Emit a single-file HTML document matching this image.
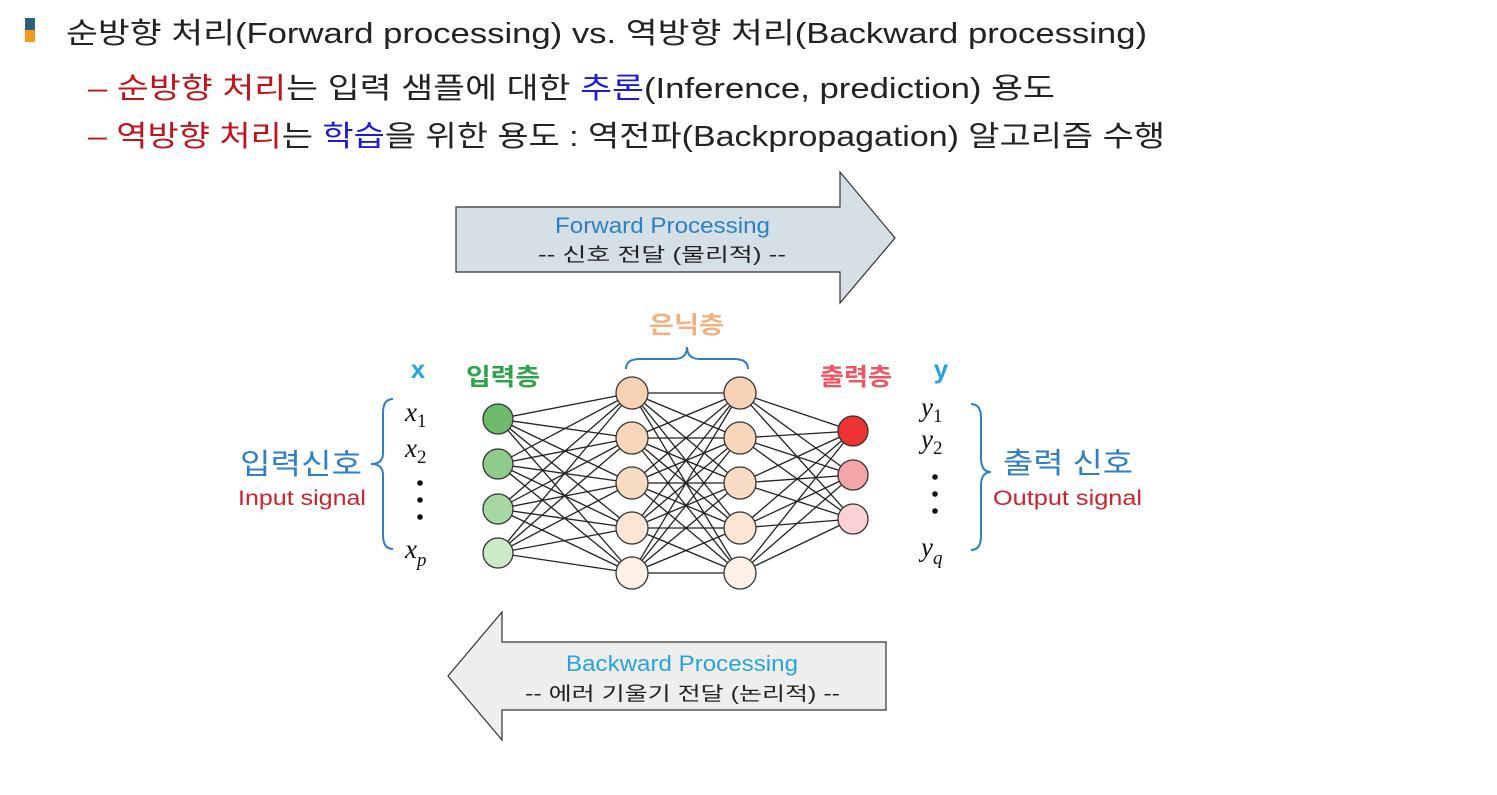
<!DOCTYPE html>
<html><head><meta charset="utf-8"><style>
body{margin:0;background:#fff;width:1497px;height:795px;overflow:hidden;font-family:"Liberation Sans","Noto Sans CJK KR",sans-serif}
svg{position:absolute;left:0;top:0}
text{font-family:"Liberation Sans","Noto Sans CJK KR",sans-serif}
.m{font-family:"Liberation Serif","DejaVu Serif",serif;font-style:italic}
</style></head><body>
<svg width="1497" height="795" viewBox="0 0 1497 795">
<rect x="25" y="18" width="10" height="12" fill="#2f5f7a"/><rect x="25" y="30" width="10" height="12" fill="#f39a1e"/>
<text x="66" y="43" font-size="29" fill="#222" textLength="1081" lengthAdjust="spacingAndGlyphs">순방향 처리(Forward processing) vs. 역방향 처리(Backward processing)</text>
<text x="88" y="98" font-size="29" fill="#c0141c" textLength="967" lengthAdjust="spacingAndGlyphs">– 순방향 처리<tspan fill="#222">는  입력 샘플에 대한 </tspan><tspan fill="#1a1adb">추론</tspan><tspan fill="#222">(Inference, prediction) 용도</tspan></text>
<text x="88" y="146" font-size="29" fill="#c0141c" textLength="1077" lengthAdjust="spacingAndGlyphs">– 역방향 처리<tspan fill="#222">는 </tspan><tspan fill="#1a1adb">학습</tspan><tspan fill="#222">을 위한 용도 : 역전파(Backpropagation) 알고리즘 수행</tspan></text>

<polygon points="456,207 840,207 840,172 895,238 840,303 840,272 456,272" fill="#d5dfe6" stroke="#333" stroke-width="1.2"/>
<text x="555" y="233" font-size="22" fill="#2e7fc4" textLength="215" lengthAdjust="spacingAndGlyphs">Forward Processing</text>
<text x="538" y="261" font-size="19" fill="#222" textLength="248" lengthAdjust="spacingAndGlyphs">-- 신호 전달 (물리적) --</text>

<polygon points="886,642 502,642 502,612 448,676 502,740 502,710 886,710" fill="#eeeeee" stroke="#333" stroke-width="1.2"/>
<text x="566" y="671" font-size="22" fill="#27a3dd" textLength="232" lengthAdjust="spacingAndGlyphs">Backward Processing</text>
<text x="525" y="700" font-size="19" fill="#222" textLength="315" lengthAdjust="spacingAndGlyphs">-- 에러 기울기 전달 (논리적) --</text>

<g stroke="#222" stroke-width="1.3">
<line x1="498" y1="419" x2="632" y2="393"/><line x1="498" y1="419" x2="632" y2="438"/><line x1="498" y1="419" x2="632" y2="483"/><line x1="498" y1="419" x2="632" y2="528"/><line x1="498" y1="419" x2="632" y2="573"/>
<line x1="498" y1="464" x2="632" y2="393"/><line x1="498" y1="464" x2="632" y2="438"/><line x1="498" y1="464" x2="632" y2="483"/><line x1="498" y1="464" x2="632" y2="528"/><line x1="498" y1="464" x2="632" y2="573"/>
<line x1="498" y1="509" x2="632" y2="393"/><line x1="498" y1="509" x2="632" y2="438"/><line x1="498" y1="509" x2="632" y2="483"/><line x1="498" y1="509" x2="632" y2="528"/><line x1="498" y1="509" x2="632" y2="573"/>
<line x1="498" y1="553" x2="632" y2="393"/><line x1="498" y1="553" x2="632" y2="438"/><line x1="498" y1="553" x2="632" y2="483"/><line x1="498" y1="553" x2="632" y2="528"/><line x1="498" y1="553" x2="632" y2="573"/>
<line x1="632" y1="393" x2="740" y2="393"/><line x1="632" y1="393" x2="740" y2="438"/><line x1="632" y1="393" x2="740" y2="483"/><line x1="632" y1="393" x2="740" y2="528"/><line x1="632" y1="393" x2="740" y2="573"/>
<line x1="632" y1="438" x2="740" y2="393"/><line x1="632" y1="438" x2="740" y2="438"/><line x1="632" y1="438" x2="740" y2="483"/><line x1="632" y1="438" x2="740" y2="528"/><line x1="632" y1="438" x2="740" y2="573"/>
<line x1="632" y1="483" x2="740" y2="393"/><line x1="632" y1="483" x2="740" y2="438"/><line x1="632" y1="483" x2="740" y2="483"/><line x1="632" y1="483" x2="740" y2="528"/><line x1="632" y1="483" x2="740" y2="573"/>
<line x1="632" y1="528" x2="740" y2="393"/><line x1="632" y1="528" x2="740" y2="438"/><line x1="632" y1="528" x2="740" y2="483"/><line x1="632" y1="528" x2="740" y2="528"/><line x1="632" y1="528" x2="740" y2="573"/>
<line x1="632" y1="573" x2="740" y2="393"/><line x1="632" y1="573" x2="740" y2="438"/><line x1="632" y1="573" x2="740" y2="483"/><line x1="632" y1="573" x2="740" y2="528"/><line x1="632" y1="573" x2="740" y2="573"/>
<line x1="740" y1="393" x2="853" y2="431"/><line x1="740" y1="393" x2="853" y2="475"/><line x1="740" y1="393" x2="853" y2="519"/>
<line x1="740" y1="438" x2="853" y2="431"/><line x1="740" y1="438" x2="853" y2="475"/><line x1="740" y1="438" x2="853" y2="519"/>
<line x1="740" y1="483" x2="853" y2="431"/><line x1="740" y1="483" x2="853" y2="475"/><line x1="740" y1="483" x2="853" y2="519"/>
<line x1="740" y1="528" x2="853" y2="431"/><line x1="740" y1="528" x2="853" y2="475"/><line x1="740" y1="528" x2="853" y2="519"/>
<line x1="740" y1="573" x2="853" y2="431"/><line x1="740" y1="573" x2="853" y2="475"/><line x1="740" y1="573" x2="853" y2="519"/>
</g>
<g stroke="#333" stroke-width="1.3">
<circle cx="498" cy="419" r="15" fill="#6dbb6b"/><circle cx="498" cy="464" r="15" fill="#8fcb8a"/><circle cx="498" cy="509" r="15" fill="#a8d8a2"/><circle cx="498" cy="553" r="15" fill="#cdeac8"/>
<circle cx="632" cy="393" r="16" fill="#f7d2b4"/><circle cx="632" cy="438" r="16" fill="#f8d6bb"/><circle cx="632" cy="483" r="16" fill="#f9dcc4"/><circle cx="632" cy="528" r="16" fill="#fbe5d4"/><circle cx="632" cy="573" r="16" fill="#fdf0e6"/>
<circle cx="740" cy="393" r="16" fill="#f7d2b4"/><circle cx="740" cy="438" r="16" fill="#f8d6bb"/><circle cx="740" cy="483" r="16" fill="#f9dcc4"/><circle cx="740" cy="528" r="16" fill="#fbe5d4"/><circle cx="740" cy="573" r="16" fill="#fdf0e6"/>
<circle cx="853" cy="431" r="15" fill="#ee3333"/><circle cx="853" cy="475" r="15" fill="#f5a5a8"/><circle cx="853" cy="519" r="15" fill="#fad1d4"/>
</g>
<text x="649" y="333" font-size="24" fill="#f2b183" font-weight="bold" textLength="75" lengthAdjust="spacingAndGlyphs">은닉층</text>
<path d="M626,369 q0,-10 14,-10 h34 q13,0 13,-12 q0,12 13,12 h34 q14,0 14,10" fill="none" stroke="#2e7fc4" stroke-width="2"/>
<text x="466" y="385" font-size="24" fill="#2da34a" font-weight="bold" textLength="74" lengthAdjust="spacingAndGlyphs">입력층</text>
<text x="820" y="385" font-size="24" fill="#ee5560" font-weight="bold" textLength="72" lengthAdjust="spacingAndGlyphs">출력층</text>
<text x="418" y="378" font-size="26" fill="#27a3dd" text-anchor="middle" font-weight="bold" font-family="Liberation Serif,serif">x</text>
<text x="941" y="378" font-size="26" fill="#27a3dd" text-anchor="middle" font-weight="bold" font-family="Liberation Serif,serif">y</text>

<text class="m" x="405" y="421" font-size="27" fill="#111">x<tspan font-style="normal" font-size="19" dy="6">1</tspan></text>
<text class="m" x="405" y="457" font-size="27" fill="#111">x<tspan font-style="normal" font-size="19" dy="6">2</tspan></text>
<circle cx="420" cy="483" r="2.8" fill="#111"/><circle cx="420" cy="500" r="2.8" fill="#111"/><circle cx="420" cy="517" r="2.8" fill="#111"/>
<text class="m" x="405" y="558" font-size="27" fill="#111">x<tspan font-size="19" dy="8">p</tspan></text>

<text class="m" x="921" y="416" font-size="27" fill="#111">y<tspan font-style="normal" font-size="19" dy="6">1</tspan></text>
<text class="m" x="921" y="448" font-size="27" fill="#111">y<tspan font-style="normal" font-size="19" dy="6">2</tspan></text>
<circle cx="935" cy="477" r="2.8" fill="#111"/><circle cx="935" cy="494" r="2.8" fill="#111"/><circle cx="935" cy="511" r="2.8" fill="#111"/>
<text class="m" x="921" y="556" font-size="27" fill="#111">y<tspan font-size="19" dy="8">q</tspan></text>

<path d="M393,399 q-10,0 -10,14 v40 q0,11 -12,11 q12,0 12,11 v60 q0,14 10,14" fill="none" stroke="#2e7fc4" stroke-width="2"/>
<path d="M971,404 q10,0 10,14 v40 q0,14 10,14 q-10,0 -10,14 v50 q0,14 -10,14" fill="none" stroke="#2e7fc4" stroke-width="2"/>
<text x="240" y="474" font-size="29" fill="#2e7fc4" textLength="122" lengthAdjust="spacingAndGlyphs">입력신호</text>
<text x="238" y="505" font-size="21" fill="#d0212d" textLength="128" lengthAdjust="spacingAndGlyphs">Input signal</text>
<text x="1003" y="473" font-size="29" fill="#2e7fc4" textLength="130" lengthAdjust="spacingAndGlyphs">출력 신호</text>
<text x="993" y="505" font-size="21" fill="#d0212d" textLength="149" lengthAdjust="spacingAndGlyphs">Output signal</text>
</svg>
</body></html>
